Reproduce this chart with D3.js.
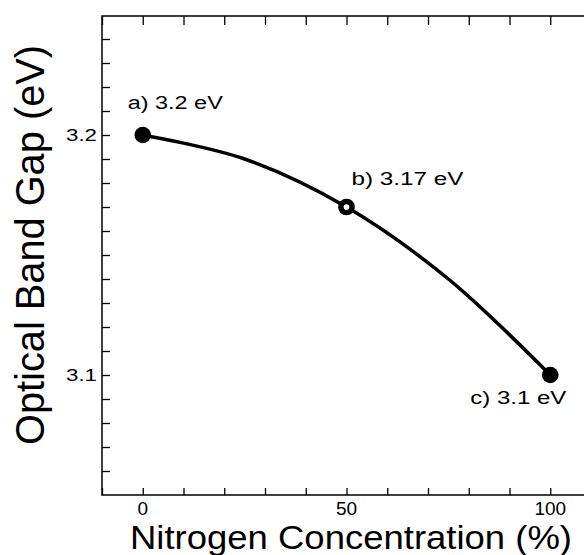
<!DOCTYPE html>
<html lang="en">
<head>
    <meta charset="UTF-8">
    <title>Optical Band Gap vs Nitrogen Concentration</title>
    <script src="https://cdnjs.cloudflare.com/ajax/libs/d3/7.8.5/d3.min.js"></script>
    <style>
        body {
            margin: 0;
            background: #ffffff;
            font-family: Arial, "Liberation Sans", Helvetica, sans-serif;
        }
        #chart { width: 584px; height: 555px; overflow: hidden; }
        .axis path { display: none; }
        .axis line { stroke: #000; stroke-width: 1.3; }
    </style>
</head>
<body>
    <div id="chart"></div>
    <script>
        // measured samples
        const nitrogen = [0, 50, 100];
        const bandGap = [3.2, 3.17, 3.1];
        const pointLabels = ["a) 3.2 eV", "b) 3.17 eV", "c) 3.1 eV"];
        const pointFilled = [true, false, true];

        // fitted curve
        const fitX = [0, 25, 50, 75, 100];
        const fitY = [3.2, 3.19, 3.17, 3.14, 3.1];

        const xTicks = [0, 50, 100];
        const xMinorTicks = [-10, 0, 10, 20, 30, 40, 50, 60, 70, 80, 90, 100, 110];
        const yTicks = [3.1, 3.2];
        const yMinorTicks = d3.range(306, 325).map(d => d / 100);

        const width = 584, height = 555;
        // the frame runs past the right edge of the picture
        const plot = { left: 102, right: 591, top: 15, bottom: 495 };

        const svg = d3.select("#chart")
            .append("svg")
            .attr("width", width)
            .attr("height", height);

        const x = d3.scaleLinear().domain([-10, 110]).range([plot.left, plot.right]);
        const y = d3.scaleLinear().domain([3.05, 3.25]).range([plot.bottom, plot.top]);

        // frame (left, top, bottom visible)
        svg.append("path")
            .attr("d", `M${width + 10},${plot.top + 1}H${plot.left}V${plot.bottom}H${width + 10}`)
            .attr("fill", "none")
            .attr("stroke", "#000")
            .attr("stroke-width", 1.5);

        // inward ticks
        svg.append("g").attr("class", "axis")
            .attr("transform", `translate(0,${plot.bottom})`)
            .call(d3.axisBottom(x).tickValues(xMinorTicks).tickSize(-7).tickFormat(""));
        svg.append("g").attr("class", "axis")
            .attr("transform", `translate(0,${plot.top + 1})`)
            .call(d3.axisTop(x).tickValues(xMinorTicks).tickSize(-9).tickFormat(""));
        svg.append("g").attr("class", "axis")
            .attr("transform", `translate(${plot.left},0)`)
            .call(d3.axisLeft(y).tickValues(yMinorTicks).tickSize(-8).tickFormat(""));

        // tick labels
        svg.selectAll(".xlabel")
            .data(xTicks)
            .enter().append("text")
            .attr("class", "xlabel")
            .attr("x", d => x(d))
            .attr("y", 515)
            .attr("text-anchor", "middle")
            .attr("font-size", 19)
            .text(d => d);

        svg.selectAll(".ylabel")
            .data(yTicks)
            .enter().append("text")
            .attr("class", "ylabel")
            .attr("x", 97)
            .attr("y", d => y(d))
            .attr("dy", "0.36em")
            .attr("text-anchor", "end")
            .attr("font-size", 17)
            .attr("textLength", 31)
            .attr("lengthAdjust", "spacingAndGlyphs")
            .text(d => d3.format(".1f")(d));

        // axis titles
        svg.append("text")
            .attr("x", 130)
            .attr("y", 549)
            .attr("font-size", 33)
            .attr("textLength", 442)
            .attr("lengthAdjust", "spacingAndGlyphs")
            .text("Nitrogen Concentration (%)");

        svg.append("text")
            .attr("transform", "translate(44,445) rotate(-90)")
            .attr("font-size", 40)
            .attr("textLength", 400)
            .attr("lengthAdjust", "spacingAndGlyphs")
            .text("Optical Band Gap (eV)");

        // curve
        const line = d3.line()
            .x(d => x(d[0]))
            .y(d => y(d[1]))
            .curve(d3.curveCatmullRom);

        svg.append("path")
            .datum(fitX.map((d, i) => [d, fitY[i]]))
            .attr("fill", "none")
            .attr("stroke", "#000")
            .attr("stroke-width", 3.5)
            .attr("d", line);

        const points = nitrogen.map((d, i) => ({
            n: d, gap: bandGap[i], label: pointLabels[i], filled: pointFilled[i]
        }));

        svg.selectAll(".pt")
            .data(points)
            .enter().append("circle")
            .attr("class", "pt")
            .attr("cx", d => x(d.n))
            .attr("cy", d => y(d.gap))
            .attr("r", d => d.filled ? 8.3 : 5.6)
            .attr("fill", d => d.filled ? "#000" : "#fff")
            .attr("stroke", "#000")
            .attr("stroke-width", d => d.filled ? 0 : 5.5);

        // annotation placement (dx, dy, anchor, length) per point
        const labelPlacement = [
            { dx: -15, dy: -26, anchor: "start", len: 95 },
            { dx: 5, dy: -22, anchor: "start", len: 112 },
            { dx: 16, dy: 29, anchor: "end", len: 96 }
        ];

        svg.selectAll(".ptlabel")
            .data(points)
            .enter().append("text")
            .attr("class", "ptlabel")
            .attr("x", (d, i) => x(d.n) + labelPlacement[i].dx)
            .attr("y", (d, i) => y(d.gap) + labelPlacement[i].dy)
            .attr("text-anchor", (d, i) => labelPlacement[i].anchor)
            .attr("font-size", 18)
            .attr("textLength", (d, i) => labelPlacement[i].len)
            .attr("lengthAdjust", "spacingAndGlyphs")
            .text(d => d.label);
    </script>
</body>
</html>
